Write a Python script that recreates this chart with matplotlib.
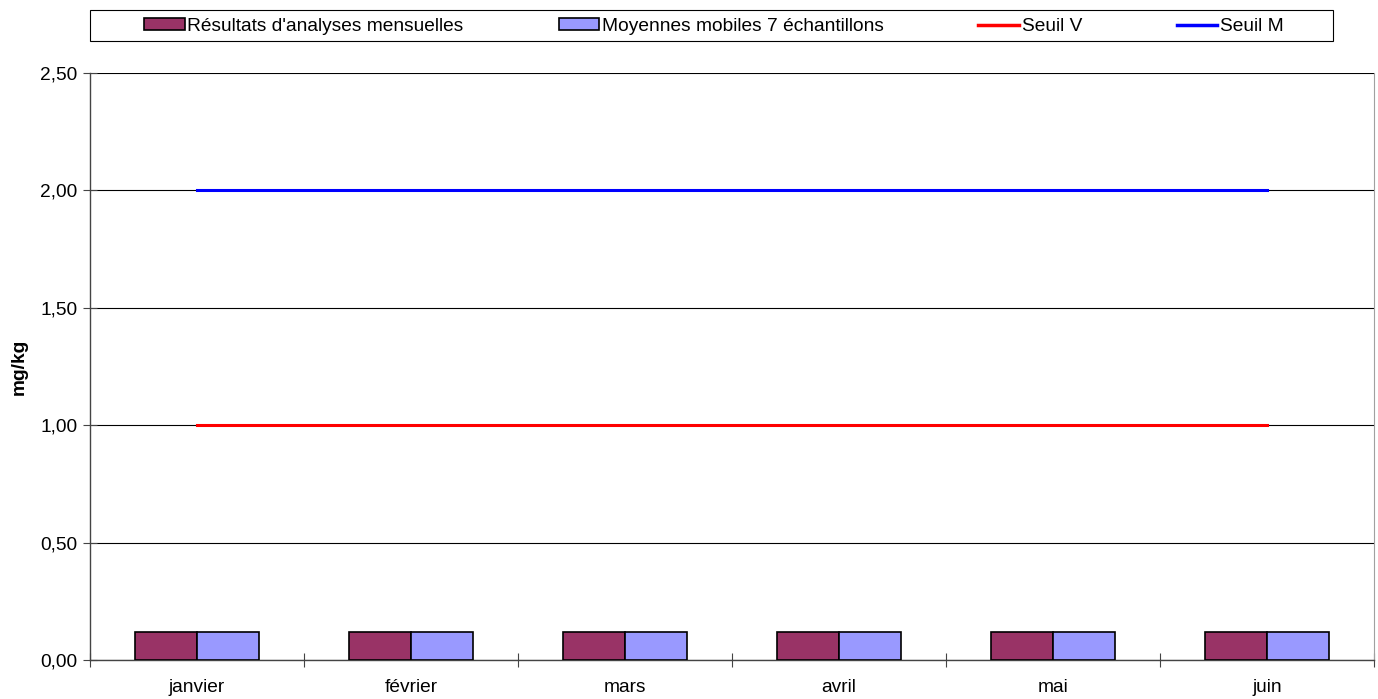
import matplotlib
matplotlib.use("Agg")
import matplotlib.pyplot as plt
import numpy as np
from matplotlib.patches import Rectangle
from matplotlib.lines import Line2D
from matplotlib.ticker import FuncFormatter, FixedLocator

months = ["janvier", "février", "mars", "avril", "mai", "juin"]
resultats = [0.12, 0.12, 0.12, 0.12, 0.12, 0.12]
moyennes = [0.12, 0.12, 0.12, 0.12, 0.12, 0.12]
seuil_v = [1.0, 1.0, 1.0, 1.0, 1.0, 1.0]
seuil_m = [2.0, 2.0, 2.0, 2.0, 2.0, 2.0]
yticks = [0.0, 0.5, 1.0, 1.5, 2.0, 2.5]

plt.rcParams['font.family'] = ['Liberation Sans', 'DejaVu Sans']
FS = 13.8

fig = plt.figure(figsize=(13.78, 6.99), dpi=100)
W, H = 1378, 699
ax = fig.add_axes([90 / W, 1 - 660 / H, (1374 - 90) / W, (660 - 73) / H])

x = np.arange(len(months))
bw = 0.29
ax.bar(x - bw / 2, resultats, bw, color="#993366", edgecolor="black", linewidth=1.2, zorder=3)
ax.bar(x + bw / 2, moyennes, bw, color="#9999FF", edgecolor="black", linewidth=1.2, zorder=3)
ax.plot(x, seuil_v, color="#FF0000", linewidth=2.2, zorder=4)
ax.plot(x, seuil_m, color="#0000FF", linewidth=2.2, zorder=4)

ax.set_xlim(-0.5, len(months) - 0.5)
ax.set_ylim(0, 2.5)
ax.set_yticks(yticks)
ax.yaxis.set_major_formatter(FuncFormatter(lambda v, p: f"{v:.2f}".replace(".", ",")))
ax.yaxis.grid(True, color="#000000", linewidth=0.8, zorder=0)
ax.set_axisbelow(True)

ax.set_xticks(x)
ax.set_xticklabels(months, fontsize=FS)
ax.tick_params(axis="x", which="major", length=0, pad=14)
ax.xaxis.set_minor_locator(FixedLocator(np.arange(-0.5, len(months), 1.0)))
ax.tick_params(axis="x", which="minor", length=10, direction="inout", width=0.8, color="#444444")
ax.tick_params(axis="y", length=10, direction="inout", width=0.8, color="#444444", labelsize=FS, pad=4)

for s in ["top", "right"]:
    ax.spines[s].set_color("#a0a0a0")
    ax.spines[s].set_linewidth(0.8)
for s in ["left", "bottom"]:
    ax.spines[s].set_color("#444444")
    ax.spines[s].set_linewidth(1.0)
ax.spines["top"].set_visible(False)

ax.set_ylabel("mg/kg", fontsize=FS, fontweight="bold", labelpad=9)

# legend frame
fig.patches.append(Rectangle((90 / W, 1 - 41 / H), (1333 - 90) / W, 31 / H,
                             transform=fig.transFigure, facecolor="white",
                             edgecolor="black", linewidth=0.8))
handles = [
    Rectangle((0, 0), 1, 1, facecolor="#993366", edgecolor="black", linewidth=1.2),
    Rectangle((0, 0), 1, 1, facecolor="#9999FF", edgecolor="black", linewidth=1.2),
    Line2D([], [], color="#FF0000", linewidth=2.5),
    Line2D([], [], color="#0000FF", linewidth=2.5),
]
labels = ["Résultats d'analyses mensuelles", "Moyennes mobiles 7 échantillons", "Seuil V", "Seuil M"]
fig.legend(handles, labels, loc="center", bbox_to_anchor=(714 / W, 1 - 26.5 / H),
           ncol=4, frameon=False, fontsize=FS, handlelength=2.1, handleheight=0.6,
           handletextpad=0.15, columnspacing=4.95, borderaxespad=0)

fig.savefig("out.png", dpi=100)
